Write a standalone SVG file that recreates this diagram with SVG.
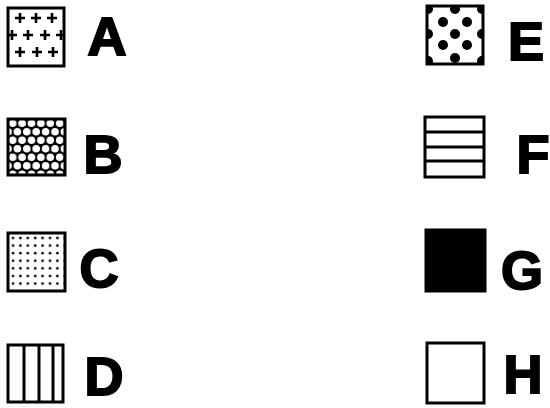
<svg xmlns="http://www.w3.org/2000/svg" width="550" height="408" viewBox="0 0 550 408">
<style>
.box{stroke:#000;stroke-width:3;}
.lbl{font-family:"Liberation Sans",Arial,sans-serif;font-weight:bold;font-size:54px;fill:#000;stroke:#000;stroke-width:2;text-anchor:middle;}
</style>
<defs>
<clipPath id="cA"><rect x="8" y="8" width="56" height="58"/></clipPath>
<clipPath id="cE"><rect x="427" y="6" width="56" height="58"/></clipPath>
<path id="plus" d="M-1.3,-5 L1.3,-5 L1.3,-1.3 L5,-1.3 L5,1.3 L1.3,1.3 L1.3,5 L-1.3,5 L-1.3,1.3 L-5,1.3 L-5,-1.3 L-1.3,-1.3 Z" fill="#000"/>
<pattern id="pB" x="8" y="119" width="9.4" height="17" patternUnits="userSpaceOnUse">
<rect width="9.4" height="17" fill="#000"/>
<circle cx="4.7" cy="4.2" r="3.8" fill="#fff"/>
<circle cx="0" cy="12.7" r="3.8" fill="#fff"/>
<circle cx="9.4" cy="12.7" r="3.8" fill="#fff"/>
</pattern>
<pattern id="pC" x="9" y="234" width="7.4" height="7.6" patternUnits="userSpaceOnUse">
<rect width="7.4" height="7.6" fill="#fff"/>
<circle cx="4" cy="4" r="1.3" fill="#000"/>
</pattern>
</defs>

<g id="nodeA">
<rect class="box" x="8" y="8" width="56" height="58" fill="#fff"/>
<g clip-path="url(#cA)">
<use href="#plus" x="20" y="18"/><use href="#plus" x="36" y="18"/><use href="#plus" x="52" y="18"/>
<use href="#plus" x="12" y="35"/><use href="#plus" x="28" y="35"/><use href="#plus" x="45" y="35"/><use href="#plus" x="61" y="35"/>
<use href="#plus" x="20" y="52"/><use href="#plus" x="37" y="52"/><use href="#plus" x="53" y="52"/>
</g>
<text class="lbl" x="107" y="55">A</text>
</g>

<g id="nodeB">
<rect class="box" x="8" y="119" width="57" height="56" fill="url(#pB)"/>
<text class="lbl" x="103" y="173">B</text>
</g>

<g id="nodeC">
<rect class="box" x="8" y="233" width="57" height="58" fill="url(#pC)"/>
<text class="lbl" x="99" y="287">C</text>
</g>

<g id="nodeD">
<rect class="box" x="8" y="345" width="55" height="57" fill="#fff"/>
<line x1="24" y1="345" x2="24" y2="402" stroke="#000" stroke-width="3"/>
<line x1="39" y1="345" x2="39" y2="402" stroke="#000" stroke-width="3"/>
<line x1="53" y1="345" x2="53" y2="402" stroke="#000" stroke-width="3"/>
<text class="lbl" x="104" y="395">D</text>
</g>

<g id="nodeE">
<rect class="box" x="427" y="6" width="56" height="58" fill="#fff"/>
<g clip-path="url(#cE)" fill="#000">
<circle cx="428" cy="9" r="5"/><circle cx="455" cy="9" r="5"/><circle cx="482" cy="9" r="5"/>
<circle cx="443" cy="22" r="5"/><circle cx="467" cy="22" r="5"/>
<circle cx="428" cy="34" r="5"/><circle cx="455" cy="34" r="5"/><circle cx="482" cy="34" r="5"/>
<circle cx="443" cy="45" r="5"/><circle cx="467" cy="45" r="5"/>
<circle cx="428" cy="61" r="5"/><circle cx="455" cy="58" r="5"/><circle cx="482" cy="61" r="5"/>
</g>
<text class="lbl" x="526" y="60">E</text>
</g>

<g id="nodeF">
<rect class="box" x="425" y="117" width="59" height="60" fill="#fff"/>
<line x1="425" y1="132" x2="484" y2="132" stroke="#000" stroke-width="3"/>
<line x1="425" y1="147" x2="484" y2="147" stroke="#000" stroke-width="3"/>
<line x1="425" y1="161" x2="484" y2="161" stroke="#000" stroke-width="3"/>
<text class="lbl" x="533" y="173">F</text>
</g>

<g id="nodeG">
<rect class="box" x="426" y="230" width="59" height="61" fill="#000"/>
<text class="lbl" x="522" y="289">G</text>
</g>

<g id="nodeH">
<rect class="box" x="427" y="343" width="57" height="60" fill="#fff"/>
<text class="lbl" x="523" y="393">H</text>
</g>
</svg>
